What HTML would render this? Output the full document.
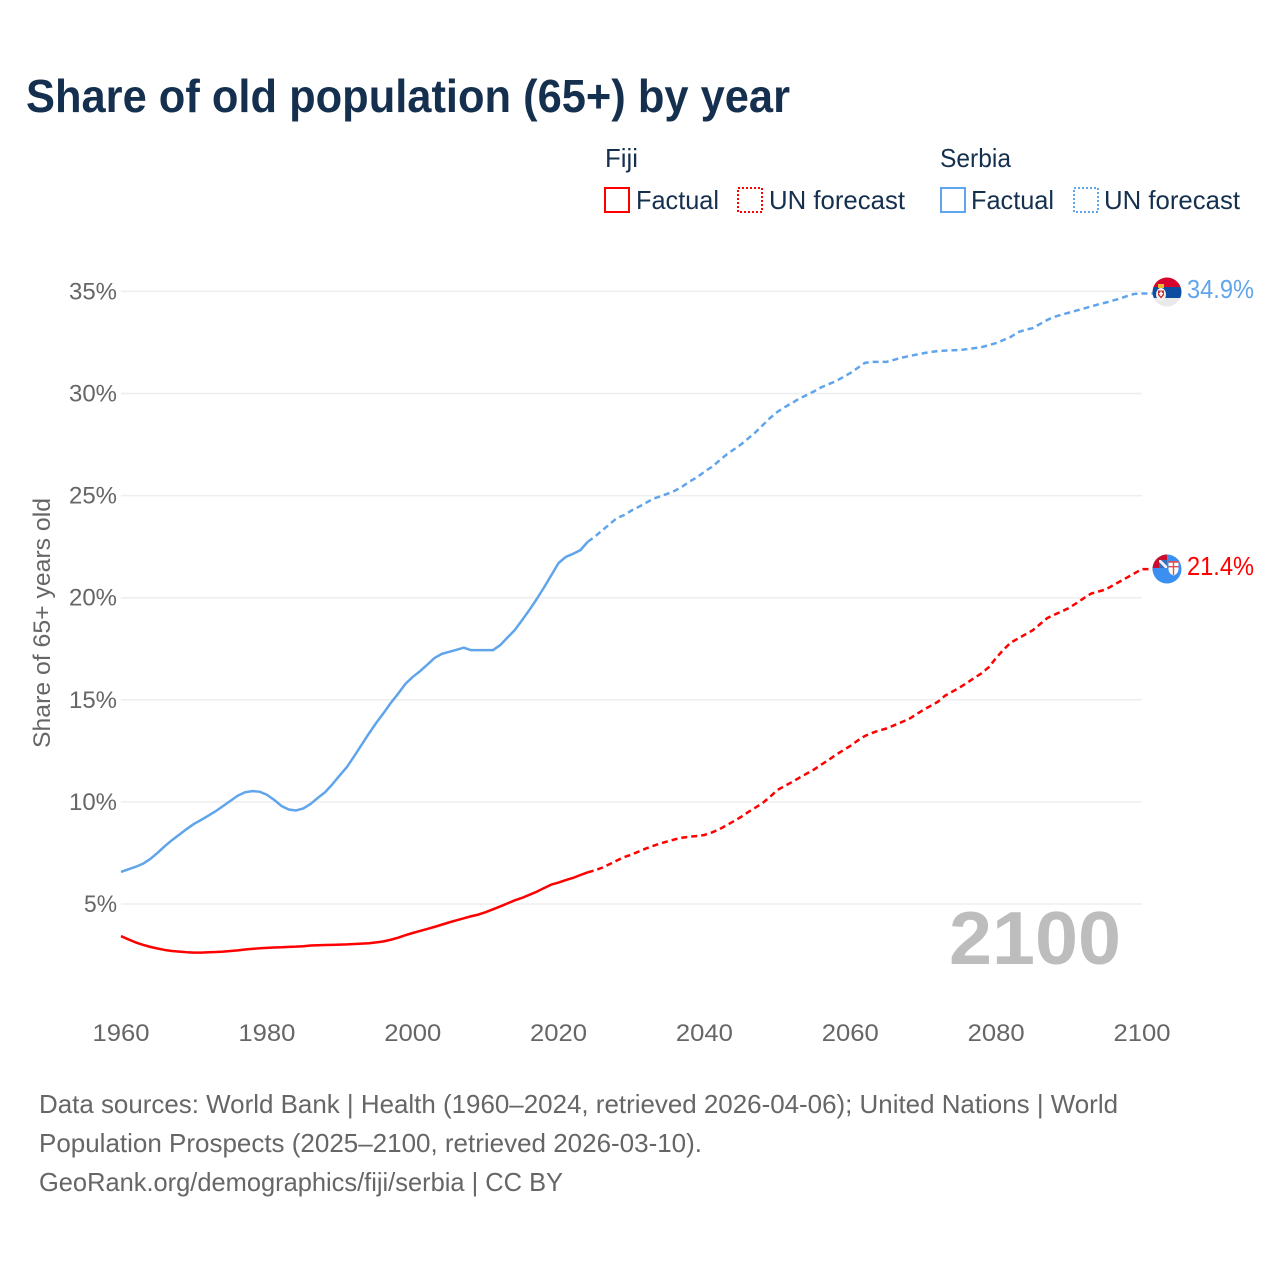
<!DOCTYPE html>
<html lang="en">
<head>
<meta charset="utf-8">
<title>Share of old population (65+) by year</title>
<style>
html,body{margin:0;padding:0;background:#fff}
svg{display:block}
text{font-family:"Liberation Sans",sans-serif}
</style>
</head>
<body>
<svg id="chart" xmlns="http://www.w3.org/2000/svg" width="1280" height="1280" viewBox="0 0 1280 1280">
  <defs>
    <clipPath id="flag-clip-serbia"><circle cx="1167" cy="292" r="14.5"/></clipPath>
    <clipPath id="flag-clip-fiji"><circle cx="1167" cy="569" r="14.5"/></clipPath>
  </defs>
  <rect width="1280" height="1280" fill="#fff"/>
  <text x="26" y="112" font-size="46" font-weight="700" fill="#15304f" textLength="764" lengthAdjust="spacingAndGlyphs">Share of old population (65+) by year</text>

  <g>
    <text x="605" y="167" font-size="26" fill="#15304f" textLength="33" lengthAdjust="spacingAndGlyphs">Fiji</text>
    <rect x="605" y="188" width="24" height="24" fill="none" stroke="#ff0000" stroke-width="2"/>
    <text x="636" y="209" font-size="26" fill="#15304f" textLength="83" lengthAdjust="spacingAndGlyphs">Factual</text>
    <rect x="738" y="188" width="24" height="24" fill="none" stroke="#ff0000" stroke-width="2" stroke-dasharray="2 2"/>
    <text x="769" y="209" font-size="26" fill="#15304f" textLength="136" lengthAdjust="spacingAndGlyphs">UN forecast</text>
    <text x="940" y="167" font-size="26" fill="#15304f" textLength="71" lengthAdjust="spacingAndGlyphs">Serbia</text>
    <rect x="941" y="188" width="24" height="24" fill="none" stroke="#60a5ec" stroke-width="2"/>
    <text x="971" y="209" font-size="26" fill="#15304f" textLength="83" lengthAdjust="spacingAndGlyphs">Factual</text>
    <rect x="1074" y="188" width="24" height="24" fill="none" stroke="#60a5ec" stroke-width="2" stroke-dasharray="2 2"/>
    <text x="1104" y="209" font-size="26" fill="#15304f" textLength="136" lengthAdjust="spacingAndGlyphs">UN forecast</text>
  </g>

  <g id="grid"></g>
  <g id="yticks"></g>
  <g id="xticks"></g>
  <text transform="translate(50,623) rotate(-90)" text-anchor="middle" font-size="24" fill="#666" textLength="250" lengthAdjust="spacingAndGlyphs">Share of 65+ years old</text>

  <text x="1121" y="964" text-anchor="end" font-size="75" font-weight="700" fill="#bdbdbd" textLength="172" lengthAdjust="spacingAndGlyphs">2100</text>

  <g id="series"></g>

  <g clip-path="url(#flag-clip-serbia)">
    <rect x="1150" y="276" width="34" height="11" fill="#d6042e"/>
    <rect x="1150" y="287" width="34" height="11" fill="#0c4da2"/>
    <rect x="1150" y="298" width="34" height="11" fill="#e9e9e9"/>
    <ellipse cx="1161" cy="294.500" rx="5" ry="6.500" fill="#f3f0ee"/>
    <path d="M1158 290.500h6v4.500l-3 3.500l-3-3.500z" fill="#c6363c"/>
    <rect x="1158" y="284" width="6" height="4" fill="#edb92e"/>
    <rect x="1160.200" y="291.500" width="1.600" height="4.500" fill="#fff"/>
    <rect x="1159" y="293" width="4" height="1.400" fill="#fff"/>
  </g>
  <g clip-path="url(#flag-clip-fiji)">
    <rect x="1150" y="552" width="34" height="34" fill="#3a8ff0"/>
    <rect x="1150" y="552" width="17" height="16" fill="#c8102e"/>
    <rect x="1159" y="560" width="8" height="8" fill="#f4f4f8"/>
    <path d="M1161 560h6v6z" fill="#2f6fc0"/>
    <path d="M1159 562v6h6z" fill="#2f6fc0"/>
    <path d="M1168.500 561h10v8c0 3.500-2.400 5.600-5 6.500c-2.600-.9-5-3-5-6.500z" fill="#fff"/>
    <rect x="1172.800" y="561" width="1.400" height="14" fill="#e05050"/>
    <rect x="1168.500" y="566" width="10" height="1.400" fill="#e05050"/>
    <rect x="1168.500" y="561" width="10" height="1.800" fill="#e05050"/>
  </g>
  <text id="label-serbia" x="1187" y="298" font-size="26" fill="#60a5ec" textLength="67" lengthAdjust="spacingAndGlyphs"></text>
  <text id="label-fiji" x="1187" y="575" font-size="26" fill="#ff0000" textLength="67" lengthAdjust="spacingAndGlyphs"></text>

  <g font-size="26" fill="#666">
    <text x="39" y="1113" textLength="1079" lengthAdjust="spacingAndGlyphs">Data sources: World Bank | Health (1960–2024, retrieved 2026-04-06); United Nations | World</text>
    <text x="39" y="1152" textLength="663" lengthAdjust="spacingAndGlyphs">Population Prospects (2025–2100, retrieved 2026-03-10).</text>
    <text x="39" y="1191" textLength="524" lengthAdjust="spacingAndGlyphs">GeoRank.org/demographics/fiji/serbia | CC BY</text>
  </g>
</svg>
<script>
const yTicks = [5, 10, 15, 20, 25, 30, 35];
const xTicks = [1960, 1980, 2000, 2020, 2040, 2060, 2080, 2100];
const factualStartYear = 1960;
const forecastStartYear = 2025;

const serbiaFactual = [
  6.57, 6.70, 6.82, 6.97, 7.20, 7.50, 7.83, 8.13, 8.40, 8.67,
  8.92, 9.12, 9.33, 9.55, 9.80, 10.05, 10.30, 10.47, 10.53, 10.50,
  10.35, 10.10, 9.80, 9.63, 9.58, 9.68, 9.90, 10.20, 10.48, 10.87,
  11.30, 11.72, 12.25, 12.80, 13.35, 13.87, 14.35, 14.85, 15.30, 15.78,
  16.12, 16.40, 16.72, 17.05, 17.25, 17.35, 17.45, 17.55, 17.43, 17.43,
  17.43, 17.43, 17.68, 18.05, 18.42, 18.90, 19.40, 19.93, 20.50, 21.10,
  21.70, 22.00, 22.15, 22.33, 22.74
];
const serbiaForecast = [
  23.00, 23.30, 23.60, 23.90, 24.05,
  24.27, 24.45, 24.65, 24.85, 24.97,
  25.10, 25.25, 25.45, 25.70, 25.90,
  26.17, 26.40, 26.70, 27.00, 27.25,
  27.50, 27.80, 28.10, 28.45, 28.80,
  29.10, 29.33, 29.53, 29.75, 29.92,
  30.10, 30.30, 30.45, 30.60, 30.80,
  31.00, 31.25, 31.50, 31.55, 31.55,
  31.55, 31.65, 31.75, 31.83, 31.90,
  31.97, 32.03, 32.08, 32.10, 32.12,
  32.13, 32.17, 32.22, 32.27, 32.37,
  32.47, 32.62, 32.77, 33.00, 33.12,
  33.20, 33.40, 33.60, 33.76, 33.86,
  33.96, 34.06, 34.16, 34.26, 34.36,
  34.45, 34.55, 34.65, 34.78, 34.88,
  34.90
];
const fijiFactual = [
  3.43, 3.27, 3.12, 3.00, 2.90, 2.82, 2.75, 2.70, 2.67, 2.64,
  2.62, 2.62, 2.64, 2.65, 2.67, 2.70, 2.73, 2.77, 2.80, 2.83,
  2.85, 2.87, 2.88, 2.90, 2.91, 2.93, 2.97, 2.98, 2.99, 3.00,
  3.01, 3.02, 3.04, 3.06, 3.08, 3.12, 3.17, 3.25, 3.35, 3.47,
  3.58, 3.68, 3.78, 3.88, 3.99, 4.10, 4.20, 4.30, 4.40, 4.48,
  4.60, 4.74, 4.88, 5.03, 5.18, 5.30, 5.45, 5.60, 5.78, 5.95,
  6.05, 6.17, 6.28, 6.42, 6.55
];
const fijiForecast = [
  6.65, 6.78, 6.95, 7.13, 7.30,
  7.42, 7.57, 7.72, 7.85, 7.97,
  8.07, 8.17, 8.25, 8.30, 8.33,
  8.38, 8.50, 8.65, 8.85, 9.05,
  9.26, 9.50, 9.72, 9.95, 10.25,
  10.58, 10.78, 10.97, 11.18, 11.38,
  11.58, 11.82, 12.05, 12.30, 12.52,
  12.74, 13.00, 13.23, 13.38, 13.50,
  13.60, 13.75, 13.90, 14.05, 14.28,
  14.50, 14.70, 14.90, 15.20, 15.40,
  15.60, 15.83, 16.07, 16.30, 16.60,
  17.05, 17.45, 17.80, 18.00, 18.20,
  18.40, 18.70, 19.00, 19.17, 19.33,
  19.50, 19.73, 19.97, 20.20, 20.30,
  20.40, 20.60, 20.80, 21.00, 21.20,
  21.40
];

const svgNS = 'http://www.w3.org/2000/svg';
const xScale = function (year) { return 121 + (year - 1960) * (1142 - 121) / 140; };
const yScale = function (value) { return 904 - (value - 5) * 20.42; };

function make(tag, parent) {
  const el = document.createElementNS(svgNS, tag);
  parent.appendChild(el);
  return el;
}

const grid = document.getElementById('grid');
const yGroup = document.getElementById('yticks');
const xGroup = document.getElementById('xticks');
const seriesGroup = document.getElementById('series');

yTicks.forEach(function (tick) {
  const line = make('line', grid);
  
  
  line.setAttribute('x1', 121);
  line.setAttribute('x2', 1142);
  line.setAttribute('y1', yScale(tick));
  line.setAttribute('y2', yScale(tick));
  line.setAttribute('stroke', '#eeeeee');
  line.setAttribute('stroke-width', 1.5);

  const label = make('text', yGroup);
  
  
  label.setAttribute('x', 117);
  label.setAttribute('y', yScale(tick) + 8);
  label.setAttribute('text-anchor', 'end');
  label.setAttribute('font-size', 24);
  label.setAttribute('fill', '#666');
  label.setAttribute('textLength', tick < 10 ? 33 : 48);
  label.setAttribute('lengthAdjust', 'spacingAndGlyphs');
  label.textContent = tick + '%';
});

xTicks.forEach(function (tick) {
  const label = make('text', xGroup);
  
  
  label.setAttribute('x', xScale(tick));
  label.setAttribute('y', 1041);
  label.setAttribute('text-anchor', 'middle');
  label.setAttribute('font-size', 24);
  label.setAttribute('fill', '#666');
  label.setAttribute('textLength', 57);
  label.setAttribute('lengthAdjust', 'spacingAndGlyphs');
  label.textContent = tick;
});

function points(values, startYear) {
  return values.map(function (v, i) {
    return xScale(startYear + i).toFixed(2) + ',' + yScale(v).toFixed(2);
  });
}

function drawSeries(name, color, factual, forecast) {
  const solid = make('polyline', seriesGroup);
  
  
  solid.setAttribute('points', points(factual, factualStartYear).join(' '));
  solid.setAttribute('fill', 'none');
  solid.setAttribute('stroke', color);
  solid.setAttribute('stroke-width', 2.5);
  solid.setAttribute('stroke-linejoin', 'round');

  const lastFactual = factual[factual.length - 1];
  const lastForecast = forecast[forecast.length - 1];
  const forecastPoints = [xScale(forecastStartYear - 1).toFixed(2) + ',' + yScale(lastFactual).toFixed(2)]
    .concat(points(forecast, forecastStartYear));
  forecastPoints.push((xScale(2100) + 11).toFixed(2) + ',' + yScale(lastForecast).toFixed(2));

  const dashed = make('polyline', seriesGroup);
  
  
  dashed.setAttribute('points', forecastPoints.join(' '));
  dashed.setAttribute('fill', 'none');
  dashed.setAttribute('stroke', color);
  dashed.setAttribute('stroke-width', 2.5);
  dashed.setAttribute('stroke-dasharray', '6 4');

  document.getElementById('label-' + name).textContent = lastForecast.toFixed(1) + '%';
}

drawSeries('serbia', '#60a5ec', serbiaFactual, serbiaForecast);
drawSeries('fiji', '#ff0000', fijiFactual, fijiForecast);
</script>
</body>
</html>
